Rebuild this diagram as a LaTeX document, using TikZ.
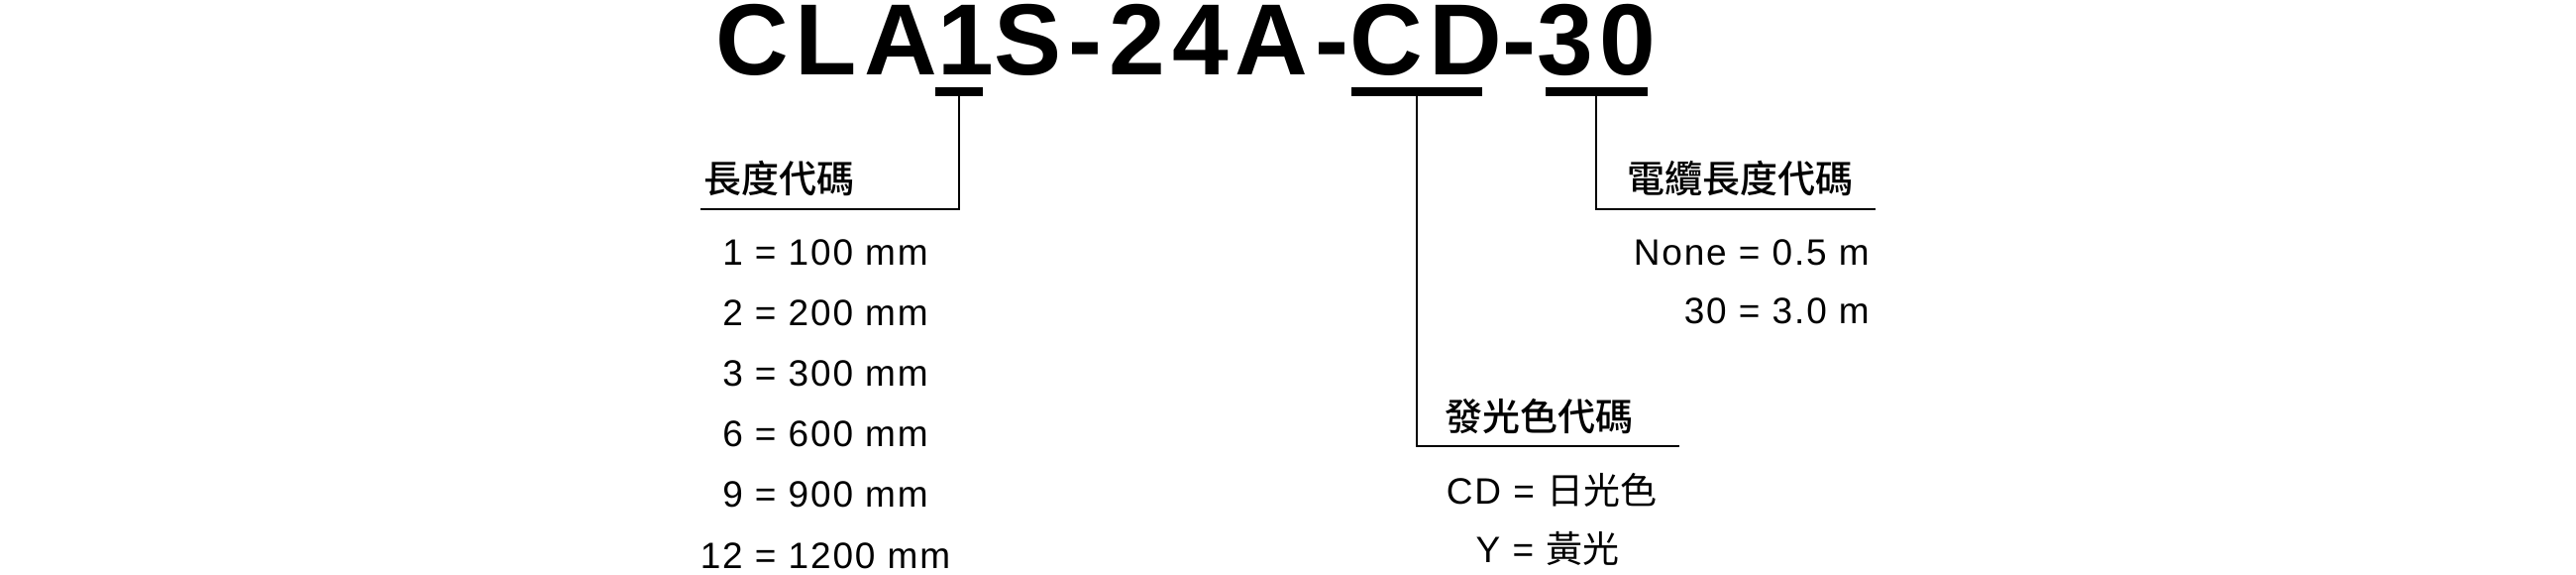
\documentclass[tikz,border=0pt]{standalone}
\usepackage{fontspec}
\setmainfont{Liberation Sans}
\newfontfamily\titlefont[LetterSpace=6.9]{Liberation Sans}
\newfontfamily\valfont[LetterSpace=5]{Liberation Sans}
\newfontfamily\cjk{Noto Sans CJK TC}
\newfontfamily\cjkhead{Noto Sans CJK TC Medium}
\usetikzlibrary{positioning}

\begin{document}
\begin{tikzpicture}[x=1pt,y=-1pt,
    part/.style={inner sep=0pt, anchor=base west, font=\titlefont\bfseries\fontsize{102}{110}\selectfont},
    head/.style={inner sep=0pt, anchor=base west, font=\cjkhead\fontsize{38}{44}\selectfont},
    val/.style={inner sep=0pt, anchor=base, font=\valfont\fontsize{37}{44}\selectfont},
    bar/.style={line width=9pt},
    lead/.style={line width=2pt}]
        \fill[white] (0,0) rectangle (2600,580);
        \useasboundingbox (0,0) rectangle (2600,580);

        % model code, cut into the parts that get a leader
        \node[part] (pCLA) at (722,76) {CLA};
        \node[part] (p1) at (pCLA.base east) {1};
        \node[part] (pS) at (p1.base east) {S-24A-};
        \node[part] (pCD) at (pS.base east) {CD};
        \node[part] (pdash) at (pCD.base east) {-};
        \node[part] (p30) at (pdash.base east) {30};

        \coordinate (u1) at ([xshift=-7pt,yshift=-16.5pt]p1.base);
        \coordinate (uCD) at ([xshift=-9pt,yshift=-16.5pt]pCD.base);
        \coordinate (u30) at ([xshift=0pt,yshift=-16.5pt]p30.base);
        \draw[bar] ([xshift=-24pt]u1) -- ([xshift=24pt]u1);
        \draw[bar] ([xshift=-66pt]uCD) -- ([xshift=66pt]uCD);
        \draw[bar] ([xshift=-51.5pt]u30) -- ([xshift=51.5pt]u30);

        % headers
        \node[head] (hLen) at (710,195) {長度代碼};
        \node[head] (hCab) at (1642,195) {電纜長度代碼};
        \node[head] (hCol) at (1458,434) {發光色代碼};

        \coordinate (lenEnd) at (707,211);
        \coordinate (colEnd) at (1695,450);
        \coordinate (cabEnd) at (1893,211);
        \draw[lead] (u1) |- (lenEnd);
        \draw[lead] (uCD) |- (colEnd);
        \draw[lead] (u30) |- (cabEnd);

        % values
        \foreach \c/\v [count=\i from 0] in {1/100,2/200,3/300,6/600,9/900,12/1200}
            \node[val] (len\c) at (833,267+61.2*\i) {\c\ = \v\ mm};

        \node[val, anchor=base east] (cabNone) at (1887,267) {None = 0.5 m};
        \node[val, anchor=base east] (cab30) at (1887,326) {30 = 3.0 m};

        \node[val] (colCD) at (1566,508) {CD = {\cjk 日光色}};
        \node[val] (colY) at (1562,567) {Y = {\cjk 黃光}};
\end{tikzpicture}
\end{document}
